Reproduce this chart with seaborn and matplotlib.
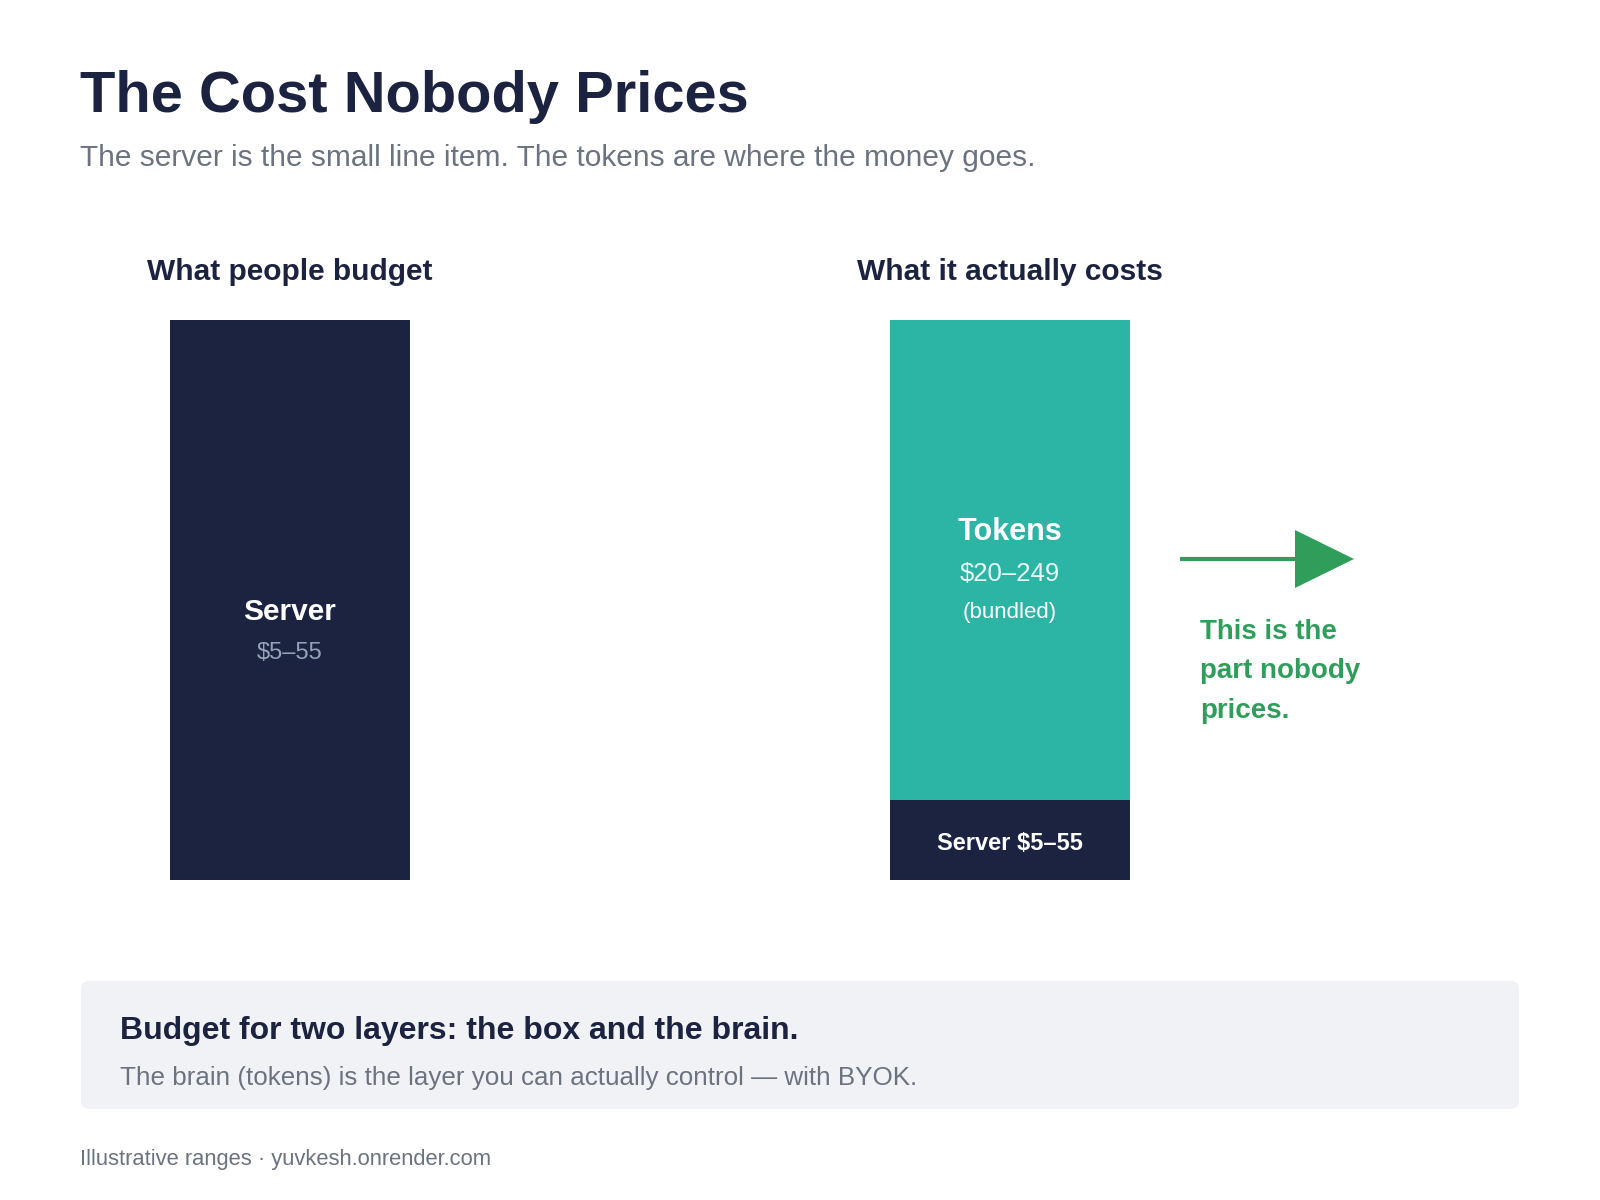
import matplotlib
matplotlib.use("Agg")
import matplotlib.pyplot as plt
import seaborn as sns
import pandas as pd
from matplotlib.patches import FancyBboxPatch, Polygon
from matplotlib.lines import Line2D
from matplotlib.transforms import IdentityTransform

# ---- data (illustrative visual units) ----
panels = ["What people budget", "What it actually costs"]
server_units = [7, 1]
token_units = [0, 6]
server_range = "$5–55"
token_range = "$20–249"

NAVY = "#1b2340"
TEAL = "#2cb4a4"
GREEN = "#2f9e5b"
GRAY = "#6b7280"
SLATE = "#94a3b8"
BOXBG = "#f1f2f6"

sns.set_theme(style="white")
plt.rcParams["font.family"] = ["Liberation Sans", "DejaVu Sans"]

W, H = 1600, 1200
fig = plt.figure(figsize=(16, 12), dpi=100)
fig.patch.set_facecolor("white")

def fx(px):
    return px / W

def fy(py):
    return 1 - py / H

df = pd.DataFrame({
    "panel": panels,
    "server": server_units,
    "tokens": token_units,
})
df["total"] = df["server"] + df["tokens"]

ax = fig.add_axes([0, 0, 1, 1])
sns.barplot(data=df, x="panel", y="total", color=TEAL, saturation=1,
            width=1/3, linewidth=0, ax=ax)
sns.barplot(data=df, x="panel", y="server", color=NAVY, saturation=1,
            width=1/3, linewidth=0, ax=ax)
ax.set_xlim(-290/720, 1310/720)
ax.set_ylim(-4, 11)
ax.axis("off")

# panel headers above bars
for i, name in enumerate(panels):
    ax.text(i, 7 + 48/80, name, ha="center", va="center", fontsize=21.5,
            fontweight="bold", color=NAVY)

# left bar labels
ax.text(0, 3.35, "Server", ha="center", va="center", fontsize=21.5,
        fontweight="bold", color="white")
ax.text(0, 2.84, server_range, ha="center", va="center", fontsize=17,
        color=SLATE)

# right bar labels
ax.text(1, 4.35, "Tokens", ha="center", va="center", fontsize=22,
        fontweight="bold", color="white")
ax.text(1, 3.83, token_range, ha="center", va="center", fontsize=18.5,
        color="#eafaf7")
ax.text(1, 3.34, "(bundled)", ha="center", va="center", fontsize=16,
        color="white")
ax.text(1, 0.45, "Server " + server_range, ha="center", va="center",
        fontsize=17, fontweight="bold", color="white")

# title & subtitle
fig.text(fx(80), fy(112), "The Cost Nobody Prices", ha="left", va="baseline",
         fontsize=41.7, fontweight="bold", color=NAVY)
fig.text(fx(80), fy(158), "The server is the small line item. The tokens are where the money goes.",
         ha="left", va="center", fontsize=21.5, color=GRAY)

# arrow (pixel coords, origin bottom-left)
ident = IdentityTransform()
ay = H - 559
fig.add_artist(Line2D([1180, 1300], [ay, ay], color=GREEN, linewidth=3,
                      transform=ident, solid_capstyle="butt"))
fig.add_artist(Polygon([[1295, ay + 29], [1295, ay - 29], [1354, ay]],
                       closed=True, facecolor=GREEN, edgecolor="none",
                       transform=ident))

for txt, yy in zip(["This is the", "part nobody", "prices."], [632, 671, 711]):
    fig.text(fx(1200), fy(yy), txt, ha="left", va="center", fontsize=20,
             fontweight="bold", color=GREEN)

# bottom callout box
box = FancyBboxPatch((81, H - 1109), 1438, 128,
                     boxstyle="round,pad=0,rounding_size=8",
                     facecolor=BOXBG, edgecolor="none", transform=ident)
fig.add_artist(box)
fig.text(fx(120), fy(1031), "Budget for two layers: the box and the brain.",
         ha="left", va="center", fontsize=23, fontweight="bold", color=NAVY)
fig.text(fx(120), fy(1078), "The brain (tokens) is the layer you can actually control — with BYOK.",
         ha="left", va="center", fontsize=18.75, color=GRAY)

fig.text(fx(80), fy(1159), "Illustrative ranges · yuvkesh.onrender.com",
         ha="left", va="center", fontsize=15.85, color=GRAY)

fig.savefig("out.png", dpi=100, facecolor="white")
